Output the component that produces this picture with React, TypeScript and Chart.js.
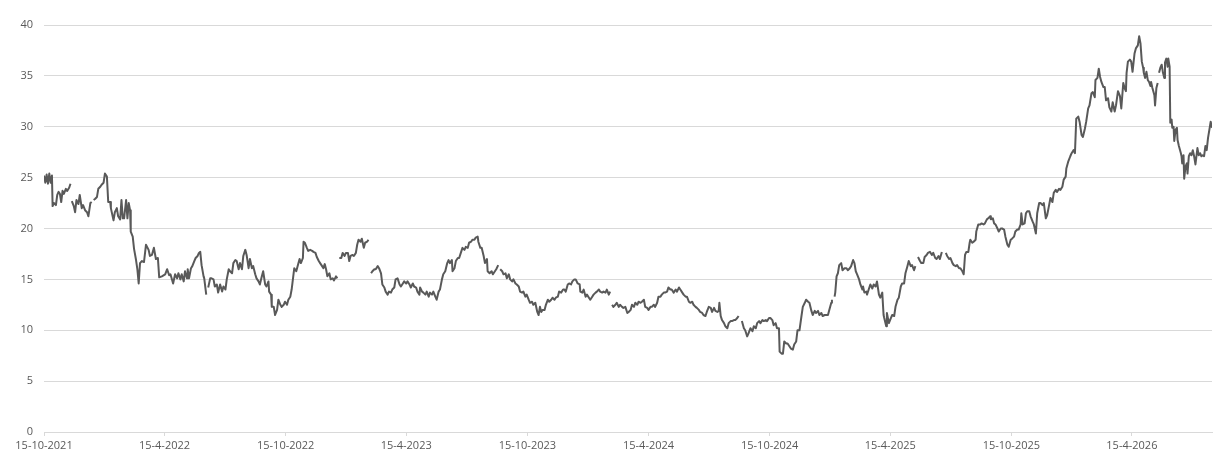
import React, { useEffect, useRef } from "react";
import { Chart, registerables } from "chart.js";

Chart.register(...registerables);

// x = days since 15-10-2021, y = value. Segments are separated by gaps in the data.
const segA: [number, number][] = [
  [0, 25.2], [2, 24.5], [4, 25.3], [6, 24.4], [8, 25.4], [10, 24.5], [12, 25.2], [13, 22.2], [15, 22.5], [18, 22.3],
  [20, 23.3], [22, 23.6], [24, 23.4], [26, 22.6], [28, 23.7], [30, 23.4], [33, 23.9], [35, 23.7], [38, 24.0], [40, 24.4],
];
const segB: [number, number][] = [
  [42, 22.7], [45, 22.2], [47, 21.6], [49, 22.8], [52, 22.4], [54, 23.3], [57, 22.0], [59, 22.3], [62, 21.8], [65, 21.6],
  [67, 21.2], [70, 22.5], [72, 22.6],
];
const segC: [number, number][] = [
  [75, 22.8], [77, 22.9], [80, 23.1], [82, 23.9], [85, 24.1], [87, 24.3], [90, 24.5], [92, 25.4], [95, 25.1], [97, 22.6],
  [100, 22.6], [101, 22.0], [105, 20.8], [107, 21.6], [110, 22.0], [112, 21.2], [115, 20.9], [117, 22.8], [119, 21.0], [121, 21.0],
  [124, 22.8], [126, 21.0], [128, 22.5], [130, 21.8], [131, 19.7], [134, 19.2], [136, 18.0], [139, 16.9], [141, 16.0], [143, 14.6],
  [145, 16.6], [148, 16.8], [151, 16.7], [154, 18.4], [158, 17.9], [160, 17.3], [163, 17.4], [166, 18.1], [169, 17.0], [172, 17.1],
  [174, 15.2], [178, 15.3], [183, 15.5], [186, 16.0], [189, 15.4], [191, 15.5], [195, 14.6], [198, 15.5], [201, 15.1], [203, 15.6],
  [206, 15.0], [208, 15.5], [211, 14.8], [213, 15.8], [216, 15.1], [217, 16.0], [219, 15.1], [222, 16.1], [224, 16.3], [227, 16.8],
  [229, 17.1], [232, 17.3], [234, 17.6], [236, 17.7], [238, 16.4], [241, 15.3], [242, 15.1], [245, 13.5],
];
const segD: [number, number][] = [
  [248, 14.2], [251, 15.1], [253, 15.1], [256, 15.0], [258, 14.3], [261, 14.5], [263, 13.7], [266, 14.5], [269, 13.8], [271, 14.3],
  [274, 14.0], [276, 15.0], [279, 16.0], [281, 15.8], [284, 15.6], [286, 16.6], [289, 16.9], [291, 16.8], [294, 16.0], [296, 16.6],
  [299, 16.0], [301, 17.3], [304, 17.9], [306, 17.4], [309, 16.1], [311, 17.0], [314, 16.1], [316, 16.3], [319, 15.5], [321, 15.1],
  [324, 14.8], [326, 14.5], [329, 15.3], [331, 15.8], [334, 14.5], [336, 14.3], [339, 14.8], [340, 13.8], [343, 13.5], [344, 12.3],
  [347, 12.3], [349, 11.5], [352, 12.0], [354, 13.0], [357, 12.5], [359, 12.3], [362, 12.5], [364, 12.8], [367, 12.5], [369, 13.0],
  [372, 13.3], [374, 14.0], [377, 15.6], [378, 16.1], [381, 15.8], [383, 16.3], [386, 17.0], [388, 16.6], [391, 17.1], [392, 18.7],
  [394, 18.6], [397, 18.1], [399, 17.8], [402, 17.9], [405, 17.8], [407, 17.7], [410, 17.6], [412, 17.2], [415, 16.8], [417, 16.6],
  [420, 16.3], [422, 16.1], [424, 16.5], [426, 16.0], [428, 15.3], [431, 15.6], [433, 15.0], [436, 15.1], [438, 14.9], [441, 15.3],
  [443, 15.1],
];
const segE: [number, number][] = [
  [446, 17.1], [449, 17.1], [451, 17.6], [454, 17.3], [456, 17.6], [459, 17.6], [461, 16.8], [463, 17.3], [466, 17.4], [468, 17.3],
  [471, 17.6], [473, 18.4], [475, 18.9], [478, 18.7], [480, 19.0], [483, 18.1], [485, 18.6], [488, 18.7], [490, 18.9],
];
const segF: [number, number][] = [
  [494, 15.6], [496, 15.8], [499, 16.0], [501, 16.0], [504, 16.3], [506, 16.1], [509, 15.6], [511, 14.5], [514, 14.2], [516, 13.8],
  [519, 13.5], [521, 13.8], [524, 13.7], [526, 14.0], [529, 14.2], [531, 15.0], [534, 15.1], [537, 14.5], [539, 14.3], [542, 14.6],
  [544, 14.8], [547, 14.6], [549, 14.8], [552, 14.5], [554, 14.2], [557, 14.6], [559, 14.3], [562, 14.2], [564, 13.8], [567, 13.5],
  [568, 14.2], [571, 13.8], [573, 13.7], [576, 13.5], [578, 13.8], [581, 13.3], [583, 13.7], [586, 13.5], [588, 13.8], [591, 13.3],
  [593, 13.0], [596, 13.8], [598, 14.0], [601, 15.0], [603, 15.5], [606, 15.8], [609, 16.6], [611, 16.9], [613, 16.6], [616, 16.9],
  [617, 15.8], [620, 16.1], [622, 16.8], [625, 17.1], [627, 17.1], [630, 17.7], [632, 18.1], [635, 17.9], [637, 18.2], [640, 18.1],
  [642, 18.6], [645, 18.7], [647, 18.9], [650, 18.9], [652, 19.1], [655, 19.2], [656, 18.7], [659, 18.1], [661, 18.1], [664, 17.3],
  [666, 16.6], [669, 17.0], [670, 15.8], [673, 15.6], [676, 15.8], [678, 15.5], [681, 15.8], [683, 16.0], [686, 16.4],
];
const segG: [number, number][] = [
  [689, 16.0], [692, 15.8], [694, 15.5], [697, 15.6], [699, 15.1], [702, 15.5], [704, 15.0], [707, 14.8], [709, 15.0], [712, 14.6],
  [714, 14.5], [717, 14.3], [719, 13.8], [722, 13.7], [724, 13.8], [727, 13.3], [729, 13.5], [732, 13.0], [734, 12.7], [737, 12.8],
  [739, 12.5], [742, 12.7], [745, 11.8], [747, 11.5], [749, 12.3], [751, 11.8], [753, 12.0], [756, 12.0], [758, 12.5], [761, 13.0],
  [763, 12.8], [766, 13.0], [768, 13.2], [771, 13.0], [773, 13.2], [776, 13.3], [778, 13.8], [781, 13.7], [784, 14.0], [786, 14.0],
  [788, 13.8], [791, 14.5], [793, 14.6], [796, 14.5], [798, 14.8], [801, 15.0], [803, 15.0], [806, 14.6], [809, 14.5], [810, 13.8],
  [813, 13.7], [815, 14.0], [818, 13.3], [820, 13.5], [823, 13.2], [825, 13.0], [828, 13.3], [830, 13.5], [833, 13.7], [835, 13.8],
  [838, 14.0], [840, 13.8], [843, 13.7], [845, 13.8], [848, 13.7], [850, 14.0], [853, 13.5], [855, 13.8],
];
const segH: [number, number][] = [
  [858, 12.5], [860, 12.3], [863, 12.5], [865, 12.7], [868, 12.3], [870, 12.5], [873, 12.3], [875, 12.2], [878, 12.3], [881, 11.7],
  [883, 11.8], [886, 12.0], [888, 12.5], [891, 12.3], [893, 12.7], [896, 12.5], [898, 12.8], [901, 12.7], [903, 12.8], [906, 13.0],
  [908, 12.3], [911, 12.2], [913, 12.0], [916, 12.3], [918, 12.3], [921, 12.5], [923, 12.3], [926, 12.7], [928, 13.3], [931, 13.3],
  [933, 13.5], [936, 13.7], [938, 13.7], [941, 13.8], [943, 14.2], [946, 14.0], [948, 14.0], [951, 13.7], [954, 14.0], [956, 13.8],
  [959, 14.2], [961, 14.0], [964, 13.7], [966, 13.5], [969, 13.3], [971, 13.3], [974, 12.8], [976, 12.7], [979, 12.8], [981, 12.5],
  [984, 12.3], [986, 12.2], [989, 12.0], [991, 11.8], [994, 11.7], [996, 11.5], [999, 11.4], [1001, 11.8], [1004, 12.3], [1007, 12.2],
  [1009, 11.8], [1012, 12.2], [1014, 11.9], [1017, 11.8], [1019, 11.9], [1020, 12.7], [1022, 11.4], [1024, 11.0], [1027, 10.7], [1029, 10.4],
  [1032, 10.2], [1034, 10.7], [1037, 10.9], [1039, 10.9], [1042, 11.0], [1044, 11.0], [1047, 11.2], [1049, 11.4],
];
const segI: [number, number][] = [
  [1054, 10.9], [1057, 10.2], [1059, 10.0], [1062, 9.4], [1064, 9.7], [1067, 10.2], [1070, 9.9], [1072, 10.4], [1075, 10.2], [1077, 10.7],
  [1080, 10.9], [1082, 10.7], [1085, 11.0], [1087, 10.9], [1090, 11.0], [1092, 10.9], [1095, 11.2], [1097, 11.2], [1100, 11.0], [1102, 10.5],
  [1105, 10.7], [1107, 10.2], [1110, 10.2], [1111, 7.9], [1114, 7.7], [1116, 7.7], [1118, 8.9], [1121, 8.7], [1123, 8.7], [1126, 8.4],
  [1128, 8.2], [1131, 8.1], [1133, 8.6], [1136, 8.9], [1138, 10.0], [1141, 10.0], [1144, 11.4], [1146, 12.3], [1149, 12.7], [1151, 13.0],
  [1154, 12.8], [1156, 12.7], [1159, 11.9], [1161, 11.5], [1164, 11.9], [1166, 11.7], [1169, 11.9], [1171, 11.5], [1174, 11.7], [1176, 11.4],
  [1179, 11.5], [1181, 11.5], [1184, 11.5], [1186, 12.0], [1189, 12.7], [1190, 13.0],
];
const segJ: [number, number][] = [
  [1194, 13.3], [1195, 13.7], [1197, 15.3], [1199, 15.6], [1201, 16.4], [1204, 16.6], [1206, 15.9], [1209, 16.1], [1212, 16.1], [1214, 15.9],
  [1217, 16.1], [1219, 16.3], [1222, 16.9], [1224, 16.6], [1226, 15.8], [1228, 15.5], [1231, 15.0], [1233, 14.5], [1236, 14.0], [1237, 14.3],
  [1239, 13.7], [1242, 13.8], [1243, 13.5], [1246, 14.1], [1248, 14.5], [1251, 14.1], [1253, 14.5], [1256, 14.3], [1258, 14.8], [1261, 13.5],
  [1263, 13.2], [1266, 13.7], [1268, 11.5], [1269, 11.2], [1272, 10.4], [1273, 11.7], [1276, 10.7], [1279, 11.2], [1281, 11.5], [1284, 11.4],
  [1286, 12.3], [1289, 13.0], [1291, 13.2], [1294, 14.3], [1296, 14.6], [1299, 14.6], [1301, 15.6], [1304, 16.3], [1306, 16.8], [1309, 16.3],
  [1311, 16.4], [1314, 15.9], [1316, 16.3],
];
const segK: [number, number][] = [
  [1320, 17.2], [1323, 16.8], [1325, 16.6], [1328, 16.6], [1330, 17.2], [1333, 17.4], [1335, 17.6], [1338, 17.7], [1341, 17.4], [1343, 17.6],
  [1346, 17.1], [1348, 17.0], [1351, 17.3], [1353, 17.0], [1356, 17.7],
];
const segL: [number, number][] = [
  [1362, 17.6], [1364, 17.3], [1367, 17.0], [1369, 17.1], [1372, 16.6], [1374, 16.4], [1377, 16.3], [1379, 16.4], [1382, 16.1], [1384, 16.1],
  [1387, 15.8], [1389, 15.5], [1391, 17.4], [1393, 17.7], [1396, 17.7], [1398, 18.6], [1399, 18.9], [1402, 18.6], [1404, 18.7], [1407, 18.9],
  [1408, 19.7], [1411, 20.4], [1414, 20.4], [1416, 20.5], [1419, 20.4], [1421, 20.5], [1424, 20.9], [1426, 21.0], [1429, 21.2], [1430, 20.9],
  [1433, 21.0], [1435, 20.5], [1437, 20.4], [1440, 20.0], [1442, 19.7], [1445, 20.0], [1447, 20.0], [1450, 19.9], [1452, 19.2], [1455, 18.4],
  [1457, 18.2], [1460, 18.9], [1462, 19.0], [1465, 19.2], [1467, 19.7], [1470, 19.9], [1472, 19.9], [1475, 20.4], [1476, 21.5], [1478, 20.4],
  [1481, 20.5], [1483, 21.5], [1485, 21.7], [1488, 21.7], [1490, 21.2], [1493, 20.7], [1495, 20.4], [1498, 19.5], [1500, 21.5], [1503, 22.5],
  [1505, 22.5], [1508, 22.3], [1510, 22.5], [1513, 21.0], [1515, 21.3], [1518, 22.3], [1520, 23.0], [1523, 22.6], [1525, 23.5], [1528, 23.8],
  [1530, 23.6], [1533, 23.9], [1535, 23.8], [1538, 24.1], [1540, 24.8], [1543, 25.1], [1544, 25.9], [1547, 26.6], [1550, 27.1], [1552, 27.4],
  [1555, 27.7], [1557, 27.4], [1559, 30.8], [1562, 31.0], [1564, 30.5], [1567, 29.2], [1569, 29.0], [1572, 29.8], [1574, 30.5], [1577, 31.8],
  [1579, 32.1], [1582, 33.3], [1584, 33.4], [1587, 32.9], [1588, 34.6], [1591, 34.8], [1593, 35.7], [1595, 34.9], [1597, 34.4], [1600, 33.9],
  [1602, 33.9], [1604, 32.6], [1607, 32.8], [1609, 31.9], [1612, 31.5], [1614, 32.4], [1617, 31.5], [1619, 32.1], [1622, 33.5], [1625, 33.0],
  [1627, 31.8], [1630, 34.3], [1632, 33.8], [1634, 33.5], [1635, 35.3], [1637, 36.4], [1640, 36.6], [1642, 36.4], [1644, 35.4], [1647, 37.2],
  [1649, 37.7], [1652, 38.0], [1654, 38.9], [1656, 38.2], [1658, 36.4], [1660, 35.8], [1661, 35.3], [1663, 34.8], [1665, 35.4], [1667, 34.6],
  [1669, 34.4], [1671, 34.0], [1672, 34.4], [1674, 33.8], [1677, 33.1], [1678, 32.1], [1680, 33.8], [1682, 34.3],
];
const segM: [number, number][] = [
  [1684, 35.3], [1686, 35.8], [1688, 36.1], [1690, 35.3], [1692, 34.8], [1693, 36.3], [1695, 36.7], [1697, 35.9], [1698, 36.7], [1700, 35.9],
  [1701, 30.4], [1703, 30.7], [1704, 29.9], [1706, 30.0], [1707, 28.6], [1709, 29.7], [1711, 29.9], [1712, 28.7], [1714, 28.1], [1717, 27.4],
  [1718, 27.1], [1719, 26.4], [1721, 27.2], [1722, 24.9], [1724, 26.1], [1726, 26.4], [1727, 25.4], [1729, 27.1], [1731, 27.4], [1733, 27.2],
  [1735, 27.7], [1737, 27.1], [1739, 26.3], [1742, 27.9], [1744, 27.2], [1746, 27.4], [1748, 27.1], [1750, 27.2], [1752, 27.1], [1754, 28.1],
  [1756, 27.7], [1758, 28.9], [1760, 29.7], [1762, 30.5], [1764, 29.9],
];

const segments = [segA, segB, segC, segD, segE, segF, segG, segH, segI, segJ, segK, segL, segM];

const tickDays = [0, 182, 365, 547, 730, 913, 1096, 1278, 1461, 1643];
const tickLabels = [
  "15-10-2021", "15-4-2022", "15-10-2022", "15-4-2023", "15-10-2023",
  "15-4-2024", "15-10-2024", "15-4-2025", "15-10-2025", "15-4-2026",
];
const yTicks = [0, 5, 10, 15, 20, 25, 30, 35, 40];

export default function App() {
  const ref = useRef<HTMLCanvasElement | null>(null);

  useEffect(() => {
    if (!ref.current) return;
    const points: { x: number; y: number | null }[] = [];
    segments.forEach((seg, i) => {
      if (i > 0) {
        const prev = segments[i - 1];
        points.push({ x: (prev[prev.length - 1][0] + seg[0][0]) / 2, y: null });
      }
      seg.forEach(([x, y]) => points.push({ x, y }));
    });

    const font = { family: "'Open Sans', 'Noto Sans', sans-serif", size: 11 };
    const chart = new Chart(ref.current, {
      type: "line",
      data: {
        datasets: [
          {
            data: points,
            borderColor: "#595959",
            borderWidth: 2,
            borderJoinStyle: "round",
            pointRadius: 0,
            tension: 0,
            spanGaps: false,
            fill: false,
          },
        ],
      },
      options: {
        animation: false,
        responsive: false,
        parsing: true,
        layout: { padding: { top: 25, right: 11, left: 0, bottom: 0 } },
        plugins: { legend: { display: false }, tooltip: { enabled: false } },
        scales: {
          x: {
            type: "linear",
            min: 0,
            max: 1764,
            afterBuildTicks: (scale: any) => {
              scale.ticks = tickDays.map((v) => ({ value: v }));
            },
            afterFit: (scale: any) => {
              scale.height = 41;
            },
            ticks: {
              autoSkip: false,
              maxRotation: 0,
              minRotation: 0,
              padding: 3,
              color: "#595959",
              font,
              callback: (_v: any, i: number) => tickLabels[i],
            },
            grid: {
              drawOnChartArea: false,
              drawTicks: true,
              tickLength: 4,
              color: "#d9d9d9",
            },
            border: { display: true, color: "#d9d9d9", width: 1 },
          },
          y: {
            min: 0,
            max: 40,
            afterBuildTicks: (scale: any) => {
              scale.ticks = yTicks.map((v) => ({ value: v }));
            },
            afterFit: (scale: any) => {
              scale.width = 44;
            },
            ticks: { padding: 11, color: "#595959", font },
            grid: { drawTicks: false, color: "#d9d9d9" },
            border: { display: false },
          },
        },
      },
    } as any);
    return () => chart.destroy();
  }, []);

  return (
    <div style={{ position: "absolute", left: 0, top: 0, width: 1223, height: 473, background: "#fff" }}>
      <canvas ref={ref} width={1223} height={473} />
    </div>
  );
}
